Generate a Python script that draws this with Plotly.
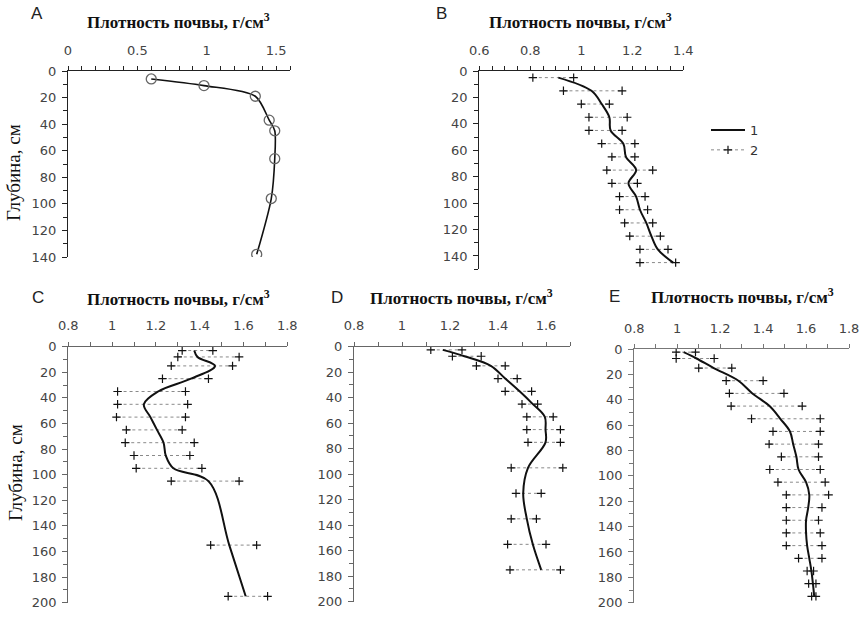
import plotly.graph_objects as go

# ---------------- data ----------------
A_depth = [6, 11, 19, 37, 45, 66, 96, 138]
A_density = [0.60, 0.98, 1.35, 1.45, 1.49, 1.49, 1.465, 1.36]

B_depth = [5, 15, 25, 35, 45, 55, 65, 75, 85, 95, 105, 115, 125, 135, 145]
B_mean = [0.91, 1.04, 1.08, 1.11, 1.115, 1.165, 1.175, 1.215, 1.185, 1.215, 1.23, 1.255, 1.275, 1.30, 1.36]
B_min = [0.81, 0.93, 1.00, 1.03, 1.03, 1.08, 1.12, 1.10, 1.12, 1.15, 1.15, 1.17, 1.19, 1.23, 1.23]
B_max = [0.97, 1.16, 1.11, 1.18, 1.16, 1.21, 1.21, 1.28, 1.22, 1.25, 1.26, 1.28, 1.31, 1.34, 1.37]

C_depth = [3, 8, 15, 25, 35, 45, 55, 65, 75, 85, 95, 105, 155, 195]
C_mean = [1.375, 1.39, 1.47, 1.36, 1.21, 1.145, 1.175, 1.205, 1.235, 1.245, 1.28, 1.44, 1.535, 1.61]
C_min = [1.32, 1.30, 1.27, 1.23, 1.025, 1.025, 1.02, 1.065, 1.06, 1.10, 1.11, 1.27, 1.45, 1.53]
C_max = [1.46, 1.58, 1.55, 1.44, 1.335, 1.345, 1.335, 1.32, 1.375, 1.355, 1.41, 1.58, 1.66, 1.71]

D_depth = [2.5, 7.5, 15, 25, 35, 45, 55, 65, 75, 95, 115, 135, 155, 175]
D_mean = [1.17, 1.26, 1.37, 1.43, 1.49, 1.545, 1.595, 1.598, 1.598, 1.525, 1.505, 1.52, 1.545, 1.58]
D_min = [1.12, 1.21, 1.31, 1.40, 1.43, 1.50, 1.52, 1.52, 1.525, 1.455, 1.475, 1.455, 1.44, 1.45]
D_max = [1.25, 1.33, 1.43, 1.48, 1.54, 1.565, 1.63, 1.66, 1.66, 1.67, 1.58, 1.56, 1.60, 1.66]

E_depth = [2.5, 7.5, 15, 25, 35, 45, 55, 65, 75, 85, 95, 105, 115, 125, 135, 145, 155, 165, 175, 185, 195]
E_mean = [1.03, 1.09, 1.17, 1.285, 1.35, 1.43, 1.48, 1.525, 1.54, 1.555, 1.565, 1.60, 1.615, 1.61, 1.60,
          1.60, 1.605, 1.615, 1.625, 1.632, 1.638]
E_min = [0.995, 0.995, 1.10, 1.228, 1.243, 1.251, 1.346, 1.446, 1.428, 1.485, 1.431, 1.469, 1.508, 1.508,
         1.508, 1.508, 1.508, 1.565, 1.605, 1.612, 1.626]
E_max = [1.085, 1.172, 1.254, 1.40, 1.497, 1.582, 1.666, 1.666, 1.658, 1.658, 1.666, 1.689, 1.705, 1.674,
         1.658, 1.666, 1.674, 1.674, 1.635, 1.646, 1.646]

panel_letters = ["A", "B", "C", "D", "E"]
x_title = "Плотность почвы, г/см<sup>3</sup>"
y_title = "Глубина, см"
legend_names = ["1", "2"]

# ---------------- layout helpers ----------------
W, H = 867, 621
def px(x):
    return x / W
def py(y):
    return 1 - y / H

TICK_FONT = dict(family="DejaVu Sans", size=13, color="#444")
SERIF = "Liberation Serif"

fig = go.Figure()

def range_trace(xa, ya, dmin, dmax, depth, name, show):
    xs, ys = [], []
    for lo, hi, d in zip(dmin, dmax, depth):
        xs += [lo, hi, None]
        ys += [d, d, None]
    fig.add_trace(go.Scatter(
        x=xs, y=ys, xaxis=xa, yaxis=ya, mode="lines+markers", name=name,
        showlegend=show, legendgroup="g2",
        line=dict(color="#8a8a8a", width=1, dash="dot"),
        marker=dict(symbol="cross-thin", size=6, line=dict(color="#111", width=1.2), color="#111"),
        connectgaps=False, hoverinfo="skip"))

def mean_trace(xa, ya, vals, depth, name, show):
    fig.add_trace(go.Scatter(
        x=vals, y=depth, xaxis=xa, yaxis=ya, mode="lines", name=name,
        showlegend=show, legendgroup="g1",
        line=dict(color="#111", width=2, shape="spline", smoothing=1.0)))

# Panel A
fig.add_trace(go.Scatter(
    x=A_density, y=A_depth, xaxis="x", yaxis="y", mode="lines+markers", showlegend=False,
    line=dict(color="#111", width=1.6, shape="spline", smoothing=0.8),
    marker=dict(symbol="circle-open", size=10, color="#666", line=dict(width=1.3, color="#666"))))

# Panel B (legend)
range_trace("x2", "y2", B_min, B_max, B_depth, legend_names[1], True)
mean_trace("x2", "y2", B_mean, B_depth, legend_names[0], True)

# Panels C, D, E
range_trace("x3", "y3", C_min, C_max, C_depth, "", False)
mean_trace("x3", "y3", C_mean, C_depth, "", False)
range_trace("x4", "y4", D_min, D_max, D_depth, "", False)
mean_trace("x4", "y4", D_mean, D_depth, "", False)
range_trace("x5", "y5", E_min, E_max, E_depth, "", False)
mean_trace("x5", "y5", E_mean, E_depth, "", False)

# panel geometry (pixels): x-left, x-right, y-top, y-bottom
geom = {
    1: (68, 290, 71, 257),
    2: (479.3, 683.3, 71, 269.2),
    3: (68.3, 287.3, 346.7, 602.7),
    4: (354, 570, 346.7, 601.7),
    5: (634.3, 849, 349, 602.7),
}
xranges = {1: (0, 1.6, 0.5, 0.1), 2: (0.6, 1.4, 0.2, 0.05), 3: (0.8, 1.8, 0.2, 0.1),
           4: (0.8, 1.7, 0.2, 0.1), 5: (0.8, 1.8, 0.2, 0.1)}
yranges = {1: 140, 2: 150, 3: 200, 4: 200, 5: 200}
axcolor = {1: "#222", 2: "#222", 3: "#666", 4: "#666", 5: "#777"}

layout = {}
for i in range(1, 6):
    xl, xr, yt, yb = geom[i]
    x0, x1, dt, mdt = xranges[i]
    sfx = "" if i == 1 else str(i)
    layout["xaxis" + sfx] = dict(
        domain=[px(xl), px(xr)], range=[x0, x1], side="top", anchor="y" + sfx,
        showline=True, linecolor=axcolor[i], linewidth=1.2, showgrid=False, zeroline=False,
        ticks="outside", ticklen=4, tickcolor=axcolor[i], tick0=x0, dtick=dt,
        minor=dict(dtick=mdt, tick0=x0, ticks="outside", ticklen=4, tickcolor=axcolor[i]),
        tickfont=TICK_FONT, ticklabelstandoff=6, fixedrange=True, automargin=False)
    layout["yaxis" + sfx] = dict(
        domain=[py(yb), py(yt)], range=[yranges[i], 0], anchor="x" + sfx,
        showline=True, linecolor=axcolor[i], linewidth=1.2, showgrid=False, zeroline=False,
        ticks="outside", ticklen=5, tickcolor=axcolor[i], tick0=0, dtick=20,
        minor=dict(dtick=10, ticks="outside", ticklen=4, tickcolor=axcolor[i]),
        tickfont=TICK_FONT, ticklabelstandoff=3, fixedrange=True, automargin=False)

annotations = []
# x titles
title_pos = [(178, 21), (580, 21), (178, 298), (461, 297), (742, 296)]
for (cx, cy) in title_pos:
    annotations.append(dict(text="<b>" + x_title + "</b>", x=px(cx), y=py(cy), xref="paper", yref="paper",
                            showarrow=False, xanchor="center", yanchor="middle",
                            font=dict(family=SERIF, size=17, color="#111")))
# letters
letter_pos = [(37, 14), (442, 14), (38, 297), (337, 297), (614, 296)]
for L, (cx, cy) in zip(panel_letters, letter_pos):
    annotations.append(dict(text=L, x=px(cx), y=py(cy), xref="paper", yref="paper", showarrow=False,
                            xanchor="center", yanchor="middle",
                            font=dict(family="Liberation Sans", size=17, color="#222")))
# y titles
for (cx, cy) in [(13, 173), (15, 473)]:
    annotations.append(dict(text=y_title, x=px(cx), y=py(cy), xref="paper", yref="paper", showarrow=False,
                            textangle=-90, xanchor="center", yanchor="middle",
                            font=dict(family=SERIF, size=19, color="#111")))

fig.update_layout(
    width=W, height=H, autosize=False,
    margin=dict(l=0, r=0, t=0, b=0, pad=0, autoexpand=False),
    paper_bgcolor="white", plot_bgcolor="white",
    showlegend=True,
    legend=dict(x=px(706), y=py(115), xanchor="left", yanchor="top", bgcolor="rgba(0,0,0,0)",
                font=dict(family="DejaVu Sans", size=13, color="#333"),
                traceorder="reversed", tracegroupgap=10, itemwidth=34),
    annotations=annotations,
    **layout)

fig.write_html("out.html", config={"displayModeBar": False},
               post_script="document.body.style.margin='0px';document.body.style.overflow='hidden';")
